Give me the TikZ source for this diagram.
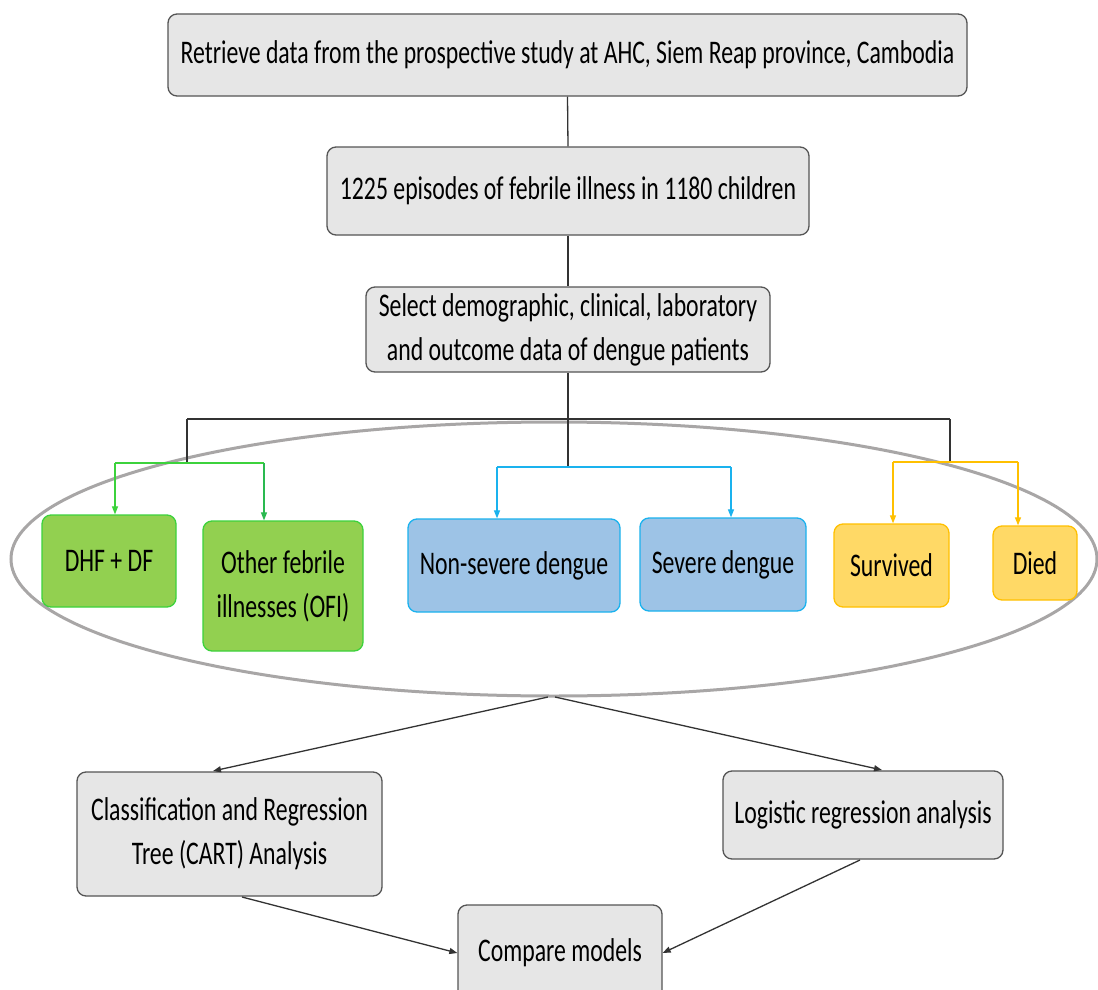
\documentclass[tikz,border=0pt]{standalone}
\usepackage{fontspec}
\setmainfont[FakeStretch=0.72]{Carlito}
\usetikzlibrary{arrows.meta,shapes.geometric}
\definecolor{boxgray}{HTML}{E6E6E6}
\definecolor{boxline}{HTML}{555555}
\definecolor{gfill}{HTML}{92D050}
\definecolor{gline}{HTML}{3CD23C}
\definecolor{bfill}{HTML}{9DC3E6}
\definecolor{bline}{HTML}{1AB2EE}
\definecolor{yfill}{HTML}{FFD966}
\definecolor{yline}{HTML}{FFC000}
\definecolor{ringgray}{HTML}{A8A6A6}
\tikzset{
  basebox/.style={rectangle, rounded corners=9pt, line width=1.3pt, inner sep=0pt,
    align=center, font=\fontsize{33}{44}\selectfont, text=black},
  graybox/.style={basebox, draw=boxline, fill=boxgray},
  greenbox/.style={basebox, draw=gline, fill=gfill},
  bluebox/.style={basebox, draw=bline, fill=bfill},
  yellowbox/.style={basebox, draw=yline, fill=yfill},
  conn/.style={line width=1.3pt, draw=black!80},
  tip/.style={-{Triangle[length=8pt,width=6pt]}},
}
\begin{document}
\begin{tikzpicture}[x=1pt,y=-1pt]
\useasboundingbox (0,0) rectangle (1098,990);
\fill[white] (0,0) rectangle (1098,990);

% ring
\node[ellipse, draw=ringgray, line width=3pt, minimum width=1086pt, minimum height=274pt, inner sep=0pt] (ring) at (554,559) {};

% top boxes
\node[graybox, minimum width=799pt, minimum height=82pt] (top) at (567.5,55) {Retrieve data from the prospective study at AHC, Siem Reap province, Cambodia};
\node[graybox, minimum width=482pt, minimum height=88pt] (ep) at (568,191) {1225 episodes of febrile illness in 1180 children};
\node[graybox, minimum width=404pt, minimum height=85pt] (sel) at (568,329.5) {Select demographic, clinical, laboratory\\and outcome data of dengue patients};

% category boxes
\node[greenbox, minimum width=134pt, minimum height=92pt] (dhf) at (109,561) {DHF + DF};
\node[greenbox, minimum width=160pt, minimum height=130pt] (ofi) at (283,586) {Other febrile\\illnesses (OFI)};
\node[bluebox, minimum width=212pt, minimum height=93pt] (ns) at (514,565.5) {Non-severe dengue};
\node[bluebox, minimum width=166pt, minimum height=93pt] (sev) at (723,564.5) {Severe dengue};
\node[yellowbox, minimum width=115pt, minimum height=83pt] (surv) at (891.5,565.5) {Survived};
\node[yellowbox, minimum width=84pt, minimum height=74pt] (died) at (1035,563) {Died};

% analysis boxes
\node[graybox, minimum width=305pt, minimum height=124pt] (cart) at (229.5,834) {Classification and Regression\\Tree (CART) Analysis};
\node[graybox, minimum width=280pt, minimum height=88pt] (log) at (863,815) {Logistic regression analysis};
\node[graybox, minimum width=204pt, minimum height=96pt] (cmp) at (560,953) {Compare models};

% coordinates for branching
\coordinate (bl) at (187,419);
\coordinate (br) at (950,419);
\coordinate (bm) at (568,419);
\coordinate (gj) at (187,463);
\coordinate (gl) at (115,463);
\coordinate (gr) at (264,463);
\coordinate (bj) at (568,467);
\coordinate (bll) at (497,467);
\coordinate (blr) at (731,467);
\coordinate (yj) at (950,462);
\coordinate (yl) at (893,462);
\coordinate (yr) at (1018,462);
\coordinate (rs1) at (548,697);
\coordinate (rs2) at (555,697);
\coordinate (cartin) at (213,771);
\coordinate (login) at (882,770);
\coordinate (cartout) at (242,897);
\coordinate (logout) at (860,860);

% black connectors
\draw[conn] (top.south) -- (ep.north);
\draw[conn] (ep.south) -- (sel.north);
\draw[conn] (sel.south) -- (bm) -- (bj);
\draw[conn] (bl) -- (br);
\draw[conn] (bl) -- (gj);
\draw[conn] (br) -- (yj);

% green
\draw[line width=1.2pt, draw=gline] (gl) -- (gr);
\draw[line width=1.2pt, draw=gline, tip] (gl) -- (gl |- dhf.north);
\draw[line width=1.2pt, draw=gline!70!teal, tip] (gr) -- (gr |- ofi.north);
% blue
\draw[line width=1.2pt, draw=bline] (bll) -- (blr);
\draw[line width=1.2pt, draw=bline, tip] (bll) -- (bll |- ns.north);
\draw[line width=1.2pt, draw=bline, tip] (blr) -- (blr |- sev.north);
% yellow
\draw[line width=1.2pt, draw=yline] (yl) -- (yr);
\draw[line width=1.2pt, draw=yline, tip] (yl) -- (yl |- surv.north);
\draw[line width=1.2pt, draw=yline, tip] (yr) -- (yr |- died.north);

% lower arrows
\draw[conn, tip] (rs1) -- (cartin);
\draw[conn, tip] (rs2) -- (login);
\draw[conn, tip] (cartout) -- (cmp.west);
\draw[conn, tip] (logout) -- (cmp.east);
\end{tikzpicture}
\end{document}
